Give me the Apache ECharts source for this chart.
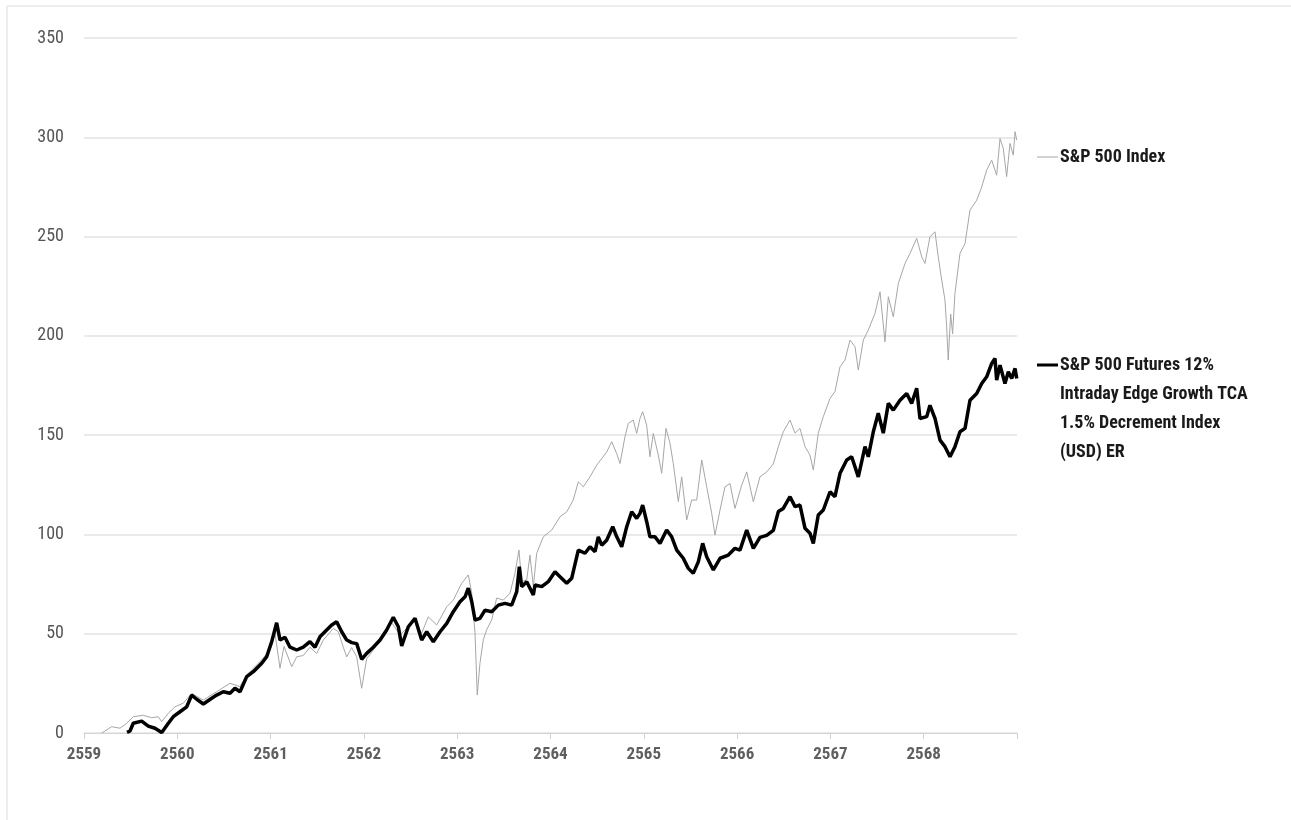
<!DOCTYPE html>
<html>
<head>
<meta charset="utf-8">
<script src="https://cdn.jsdelivr.net/npm/echarts@6/dist/echarts.min.js"></script>
<style>
html,body{margin:0;padding:0;background:#fff;}
#chart{width:1291px;height:820px;}
</style>
</head>
<body>
<div id="chart"></div>
<script>
// ---- Data (x in Buddhist-era years, y in index return %) ----
const xTickLabels = ['2559','2560','2561','2562','2563','2564','2565','2566','2567','2568'];
const yTicks = [0, 50, 100, 150, 200, 250, 300, 350];

const spxName = 'S&P 500 Index';
const futName = 'S&P 500 Futures 12%\nIntraday Edge Growth TCA\n1.5% Decrement Index\n(USD) ER';

const spxYears = [
 2559.190,2559.297,2559.386,2559.458,2559.528,2559.636,2559.726,2559.796,2559.833,2559.904,
 2559.975,2560.064,2560.154,2560.279,2560.422,2560.565,2560.672,2560.744,2560.886,2560.994,
 2561.047,2561.101,2561.144,2561.226,2561.280,2561.350,2561.422,2561.494,2561.565,2561.672,
 2561.726,2561.779,2561.816,2561.869,2561.923,2561.976,2562.030,2562.101,2562.173,2562.298,
 2562.387,2562.476,2562.548,2562.619,2562.690,2562.780,2562.888,2562.958,2563.048,2563.119,
 2563.156,2563.191,2563.215,2563.244,2563.280,2563.316,2563.370,2563.423,2563.494,2563.566,
 2563.619,2563.662,2563.691,2563.745,2563.780,2563.816,2563.852,2563.923,2564.013,2564.102,
 2564.174,2564.244,2564.298,2564.352,2564.423,2564.495,2564.549,2564.602,2564.656,2564.710,
 2564.745,2564.798,2564.834,2564.887,2564.924,2564.959,2564.988,2565.031,2565.066,2565.102,
 2565.155,2565.192,2565.238,2565.281,2565.316,2565.370,2565.406,2565.460,2565.513,2565.567,
 2565.621,2565.674,2565.728,2565.763,2565.817,2565.870,2565.924,2565.977,2566.049,2566.103,
 2566.174,2566.245,2566.317,2566.388,2566.442,2566.495,2566.567,2566.621,2566.674,2566.728,
 2566.781,2566.817,2566.870,2566.924,2566.996,2567.049,2567.103,2567.156,2567.210,2567.264,
 2567.299,2567.353,2567.406,2567.478,2567.532,2567.585,2567.621,2567.674,2567.728,2567.800,
 2567.853,2567.925,2567.979,2568.014,2568.067,2568.121,2568.156,2568.193,2568.228,2568.246,
 2568.263,2568.289,2568.310,2568.335,2568.389,2568.443,2568.496,2568.568,2568.622,2568.675,
 2568.729,2568.782,2568.818,2568.853,2568.889,2568.925,2568.960,2568.979,2568.997
];
const spxValues = [
 0,3.2,2.4,4.9,8.2,8.9,7.7,8.2,5.7,9.9,
 13.2,15,19.9,16.6,20.8,25,23.4,29.2,35.9,41.8,
 50.2,32.6,43.6,33.4,38.4,39,43.2,40,46.8,52.7,
 51,43.2,38.3,43,38.4,22.5,37.4,41.8,46.8,55.5,
 49.4,53.5,56.9,50.2,58.5,54.4,63.6,66.9,75.4,79.6,
 70.4,50.2,19.1,35.1,47,52,57,68,66.9,70.4,
 80.4,92.1,76.2,77.1,89.6,73.7,90.5,98.8,102.2,108.9,
 111.4,117.3,126.5,124,129,134.9,138.2,141.5,146.7,140.7,
 135.7,149.2,155.9,157.6,150.9,158.4,161.8,155,139.1,150.9,
 140,130.8,153.4,145.9,135.7,116.5,129,107.3,117.3,117.3,
 137.5,124,110.6,99.7,112.3,124,125.6,113.1,124.8,131.5,
 116.5,129,131.5,135.5,144.2,151.7,157.6,151,153.4,144.2,
 140,132.4,151,159.3,168.5,171.9,184.4,187.8,197.9,194.5,
 182.8,197.9,202.9,211.3,222.2,197,219.7,209.6,226.4,236.5,
 241.5,249.1,239.8,236.5,249.9,252.4,239.8,228.1,218,204.6,
 187.8,211,201,221.4,241.5,246.5,263.3,268.3,275,283.5,
 288.5,280.9,299.4,294.4,280.2,296.9,291,302.8,298.6
];

const futYears = [
 2559.461,2559.493,2559.528,2559.618,2559.689,2559.761,2559.833,
 2559.904,2559.957,2560.029,2560.101,2560.154,2560.208,2560.279,2560.369,2560.422,2560.493,
 2560.565,2560.618,2560.672,2560.744,2560.815,2560.905,2560.958,2561.012,2561.065,2561.101,
 2561.154,2561.208,2561.280,2561.350,2561.422,2561.476,2561.529,2561.601,2561.655,2561.708,
 2561.762,2561.816,2561.869,2561.923,2561.976,2562.030,2562.101,2562.173,2562.244,2562.315,
 2562.369,2562.405,2562.476,2562.548,2562.619,2562.673,2562.744,2562.816,2562.888,2562.958,
 2563.030,2563.084,2563.119,2563.156,2563.191,2563.244,2563.298,2563.370,2563.441,2563.512,
 2563.584,2563.638,2563.666,2563.691,2563.745,2563.816,2563.834,2563.906,2563.976,2564.048,
 2564.102,2564.174,2564.227,2564.298,2564.370,2564.423,2564.477,2564.512,2564.549,2564.602,
 2564.667,2564.710,2564.763,2564.817,2564.870,2564.924,2564.959,2564.988,2565.031,2565.066,
 2565.120,2565.174,2565.245,2565.299,2565.353,2565.423,2565.477,2565.530,2565.584,2565.631,
 2565.674,2565.745,2565.817,2565.906,2565.977,2566.031,2566.103,2566.174,2566.245,2566.317,
 2566.388,2566.442,2566.495,2566.567,2566.621,2566.674,2566.728,2566.781,2566.817,2566.870,
 2566.924,2566.996,2567.049,2567.103,2567.175,2567.228,2567.299,2567.371,2567.406,2567.460,
 2567.513,2567.567,2567.621,2567.674,2567.746,2567.818,2567.871,2567.925,2567.960,2568.032,
 2568.067,2568.121,2568.175,2568.228,2568.282,2568.335,2568.389,2568.443,2568.496,2568.568,
 2568.622,2568.675,2568.729,2568.764,2568.782,2568.818,2568.871,2568.907,2568.943,2568.979,
 2568.997
];
const futValues = [
 0.3,1,4.9,6.0,3.5,2.4,0.3,
 4.9,8.2,10.7,13.2,19.1,17,14.6,17.5,19.1,20.8,
 20,22.5,20.8,28.4,30.9,35.1,38.4,46,55.5,46.8,
 48.2,43.2,41.8,43.2,46,43.2,48.5,51.9,54.4,56,
 51,46.8,45.5,45,37.1,40.1,43.2,46.8,51.9,58.3,
 53.5,43.8,53.5,57.8,46.8,51,46,51,55.2,61.1,
 66.1,68.6,72.9,66.1,56.9,57.7,61.9,61.1,64.4,65.3,
 64.4,71.2,83.8,73.7,76.2,69.5,74.5,73.7,76.2,81.2,
 78.7,75.4,77.9,92.1,90.5,93.8,91.3,98.8,94.6,97.1,
 103.9,98.8,93.8,103.9,111.4,108.1,110.6,114.8,106.4,98.8,
 98.8,95.5,102.2,98.8,92.1,88,82.9,80.4,86.2,95.5,
 88.8,82.1,88,89.6,93,92.1,102.2,93,98.5,99.5,
 102,111.5,113.1,119,114,114.8,103.1,100.6,95.5,109.8,
 112.3,121.5,119,130.8,137.5,139.1,129,144.2,139.1,151.7,
 161,151,166,162.6,167.6,171,166,173.6,158.4,159.3,
 165,158.4,147.5,144.2,139.1,144.2,151.7,153.4,167.6,171,
 176,179.4,186.1,188.6,177.7,185.2,176,181.9,178.5,183.6,
 178.5
];

function pairs(xs, ys) { return xs.map((x, i) => [x, ys[i]]); }

const chart = echarts.init(document.getElementById('chart'), null, {renderer: 'canvas'});
const labelFont = "'Liberation Sans Narrow','Roboto Condensed','DejaVu Sans Condensed',sans-serif";

chart.setOption({
  animation: false,
  backgroundColor: '#ffffff',
  grid: {left: 84, right: 274, top: 38, bottom: 87, containLabel: false},
  xAxis: {
    type: 'value', min: 2559, max: 2569, interval: 1,
    axisLine: {show: true, lineStyle: {color: '#d6d6d6', width: 1}},
    axisTick: {show: true, length: 6, lineStyle: {color: '#d0d0d0'}},
    splitLine: {show: false},
    axisLabel: {
      margin: 13, color: '#5f5f5f', fontSize: 17, fontWeight: 'bold', fontFamily: labelFont,
      formatter: function (v) { const i = Math.round(v - 2559); return xTickLabels[i] || ''; }
    }
  },
  yAxis: {
    type: 'value', min: yTicks[0], max: yTicks[yTicks.length - 1], interval: 50,
    axisLine: {show: false}, axisTick: {show: false},
    splitLine: {show: true, lineStyle: {color: '#e3e3e3', width: 1.5}},
    axisLabel: {margin: 20, color: '#555555', fontSize: 18, fontFamily: labelFont}
  },
  series: [
    {
      name: spxName, type: 'line', data: pairs(spxYears, spxValues),
      showSymbol: false, lineStyle: {color: '#a6a6a6', width: 1}, z: 2
    },
    {
      name: futName, type: 'line', data: pairs(futYears, futValues),
      showSymbol: false, lineStyle: {color: '#000000', width: 3.5}, z: 3
    }
  ],
  graphic: [
    {type: 'rect', shape: {x: 7, y: 6, width: 1400, height: 1000}, style: {fill: 'none', stroke: '#dcdcdc', lineWidth: 1}, silent: true},
    {type: 'line', shape: {x1: 1037, y1: 157, x2: 1058, y2: 157}, style: {stroke: '#a6a6a6', lineWidth: 1}},
    {type: 'text', x: 1060, y: 157, style: {text: spxName, font: "bold 18px " + labelFont, fill: '#1a1a1a', verticalAlign: 'middle', align: 'left'}},
    {type: 'line', shape: {x1: 1037, y1: 365, x2: 1058, y2: 365}, style: {stroke: '#000000', lineWidth: 3}},
    {type: 'text', x: 1060, y: 350.5, style: {text: futName, font: "bold 18px " + labelFont, fill: '#1a1a1a', verticalAlign: 'top', align: 'left', lineHeight: 29}}
  ]
});
</script>
</body>
</html>
